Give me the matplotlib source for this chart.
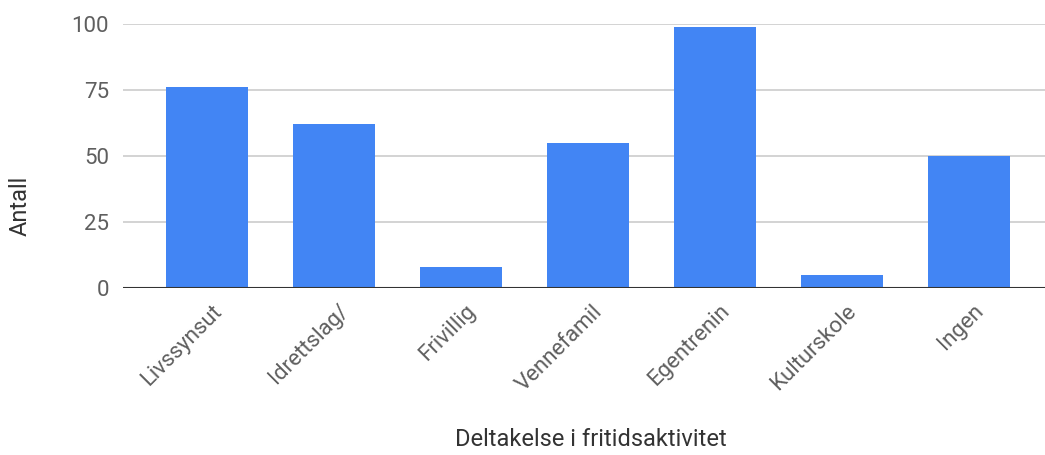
import matplotlib
matplotlib.use("Agg")
import matplotlib.pyplot as plt
import matplotlib.transforms as mtransforms

# data
categories = ["Livssynsut", "Idrettslag/", "Frivillig", "Vennefamil",
              "Egentrenin", "Kulturskole", "Ingen"]
counts = [76, 62, 8, 55, 99, 5, 50]
y_ticks = [0, 25, 50, 75, 100]

plt.rcParams['font.family'] = ['Roboto', 'DejaVu Sans']

fig = plt.figure(figsize=(10.45, 4.55), dpi=100)
ax = fig.add_axes([123 / 1045, 1 - 288.3 / 455, 1 - 123 / 1045, (288.3 - 24) / 455])

x = range(len(categories))
ax.bar(x, counts, width=0.646, color="#4285F4", zorder=2)

ax.set_xlim(-0.661, 6.598)
ax.set_ylim(0, 100)
ax.set_yticks(y_ticks)
ax.yaxis.grid(True, color="#cccccc", linewidth=1.2, zorder=0)
ax.axhline(0, color="#333333", linewidth=1.5, zorder=3)

for s in ax.spines.values():
    s.set_visible(False)

ax.tick_params(axis='both', length=0, labelcolor="#5f5f5f", labelsize=16)
ax.tick_params(axis='y', pad=10)
ax.set_xticks(list(x))
ax.set_xticklabels(categories, rotation=45, ha='right', rotation_mode='anchor')
ax.tick_params(axis='x', pad=9)

# nudge rotated labels a little to the right
shift = mtransforms.ScaledTranslation(4 / 100, 0, fig.dpi_scale_trans)
for lbl in ax.get_xticklabels():
    lbl.set_transform(lbl.get_transform() + shift)

ax.set_ylabel("Antall", fontsize=17, color="#333333")
ax.yaxis.label.set_verticalalignment('center')
ax.yaxis.set_label_coords(-0.112, 0.31)

ax.set_xlabel("Deltakelse i fritidsaktivitet", fontsize=17, color="#333333")
ax.xaxis.set_label_coords(0.5076, -0.53)

fig.savefig("out.png", dpi=100)
